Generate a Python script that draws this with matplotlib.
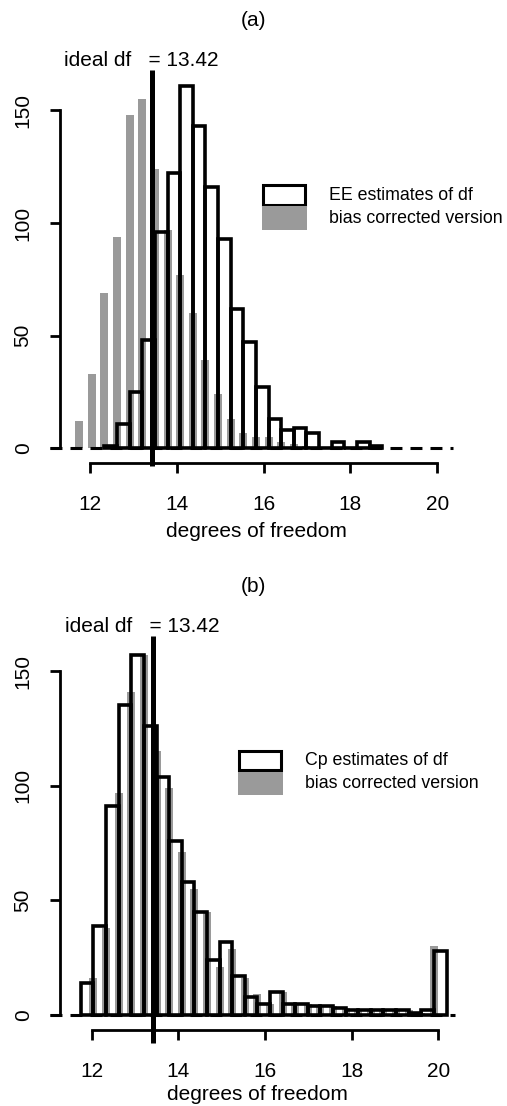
import numpy as np
import matplotlib
matplotlib.use('Agg')
import matplotlib.pyplot as plt
from matplotlib.patches import Rectangle
from matplotlib.transforms import Affine2D

plt.rcParams['font.family'] = ['Liberation Sans', 'DejaVu Sans']
plt.rcParams['lines.scale_dashes'] = False

W, H = 507, 1106
GREY = '#9a9a9a'

# histogram breaks shared by both panels
BREAK0 = 11.75
BINW = 0.291
IDEAL = 13.42

# (a) EE estimates, counts for bins 2..23
ee_first = 2
ee_counts = [1, 11, 25, 48, 96, 122, 161, 143, 116, 93, 62, 47, 27, 13, 8, 9, 7, 0, 3, 0, 3, 1]
# bias corrected version, one grey bar on each break 0..18
ee_bc = [12, 33, 69, 94, 148, 155, 124, 97, 77, 60, 39, 24, 13, 7, 5, 5, 3, 2, 1]

# (b) Cp estimates, counts for bins 0..28
cp_first = 0
cp_counts = [14, 39, 91, 135, 157, 126, 104, 76, 58, 45, 24, 32, 17, 8, 5, 10, 5, 5, 4, 4,
             3, 2, 2, 2, 2, 2, 1, 2, 28]
cp_bc = [0, 16, 38, 97, 141, 157, 115, 99, 71, 55, 45, 21, 29, 16, 9, 5, 10, 5, 5, 4,
         4, 3, 2, 2, 2, 2, 2, 1, 30]

yticks = [0, 50, 100, 150]
xticks = [12, 14, 16, 18, 20]

fig = plt.figure(figsize=(W / 100, H / 100), dpi=100)
# pixel coords (origin top left) -> figure
pix = Affine2D().scale(1.0 / W, -1.0 / H).translate(0, 1) + fig.transFigure


def panel(box, xlim, ylim, first, counts, bc, vlow, dash, tag, tag_y, ideal_xy, leg_xy, leg_label,
          xlab_pad):
    l, t, r, b = box
    ax = fig.add_axes([l / W, 1 - b / H, (r - l) / W, (b - t) / H])
    ax.set_xlim(xlim)
    ax.set_ylim(ylim)

    # grey bars sit on the breaks
    brk = BREAK0 + BINW * np.arange(len(bc))
    ax.bar(brk, bc, width=0.185, color=GREY, linewidth=0, zorder=1)
    ax.plot(dash, [0, 0], color='black', lw=2.2, dashes=(8.6, 5.8), zorder=2, clip_on=False)
    lefts = BREAK0 + BINW * (first + np.arange(len(counts)))
    ax.bar(lefts, counts, width=BINW, align='edge', fill=False, edgecolor='black',
           linewidth=2.6, zorder=3)
    ax.plot([IDEAL, IDEAL], [vlow, ylim[1]], color='black', lw=3.6, zorder=4,
            clip_on=False, solid_capstyle='butt')

    for s in ['top', 'right']:
        ax.spines[s].set_visible(False)
    ax.spines['left'].set_bounds(0, 150)
    ax.spines['bottom'].set_bounds(12, 20)
    ax.spines['left'].set_linewidth(2)
    ax.spines['bottom'].set_linewidth(2)
    ax.set_xticks(xticks)
    ax.set_xticklabels([str(v) for v in xticks])
    ax.set_yticks(yticks)
    ax.set_yticklabels([str(v) for v in yticks], rotation=90, va='center')
    ax.tick_params(axis='both', length=7.2, width=2, labelsize=15)
    ax.tick_params(axis='x', pad=15.5)
    ax.tick_params(axis='y', pad=12.5)
    ax.set_xlabel('degrees of freedom', fontsize=15, labelpad=xlab_pad)
    ax.patch.set_visible(False)

    fig.text(253, tag_y, tag, transform=pix, ha='center', va='center', fontsize=15)
    fig.text(ideal_xy[0], ideal_xy[1], 'ideal df   = %.2f' % IDEAL, transform=pix,
             ha='left', va='center', fontsize=15)

    # legend, drawn by hand so the two boxes touch like in R
    x0, y0 = leg_xy
    fig.add_artist(Rectangle((x0 + 1.3, y0 + 1.3), 42.4, 19.8, transform=pix,
                             facecolor='white', edgecolor='black', lw=2.2))
    fig.add_artist(Rectangle((x0, y0 + 22.3), 45.6, 23.3, transform=pix,
                             facecolor=GREY, lw=0))
    fig.text(x0 + 67.3, y0 + 11, leg_label, transform=pix, ha='left', va='center', fontsize=12.8)
    fig.text(x0 + 67.3, y0 + 34.3, 'bias corrected version', transform=pix,
             ha='left', va='center', fontsize=12.8)
    return ax


panel((60, 70, 453, 463.3), (11.309, 20.364), (-6.66, 167.9), ee_first, ee_counts, ee_bc,
      -7.9, (11.078, 20.364), '(a)', 20, (64, 61), (261.7, 184), 'EE estimates of df', 6)
panel((60, 636, 455, 1030), (11.268, 20.385), (-6.54, 165.3), cp_first, cp_counts, cp_bc,
      -12.2, (11.038, 20.385), '(b)', 587, (65, 627), (237.7, 749.3), 'Cp estimates of df', 3)

fig.savefig('out.png', dpi=100)
